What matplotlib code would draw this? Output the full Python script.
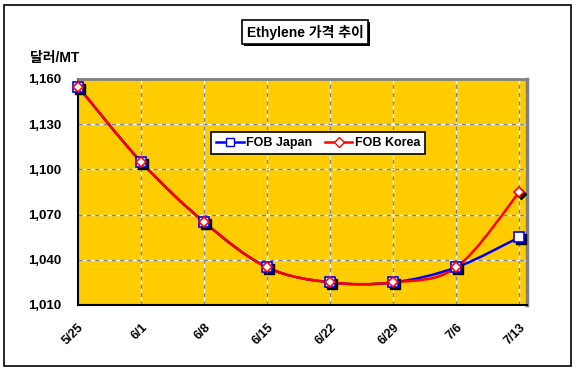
import matplotlib
matplotlib.use("Agg")
import matplotlib.pyplot as plt
import matplotlib.transforms as mtransforms
from matplotlib.path import Path
from matplotlib.patches import PathPatch, Rectangle
import numpy as np

plt.rcParams['font.family'] = ['Liberation Sans', 'Noto Sans CJK KR', 'DejaVu Sans']

dates = ['5/25', '6/1', '6/8', '6/15', '6/22', '6/29', '7/6', '7/13']
fob_japan = [1155, 1105, 1065, 1035, 1025, 1025, 1035, 1055]
fob_korea = [1155, 1105, 1065, 1035, 1025, 1025, 1035, 1085]
yticks = [1010, 1040, 1070, 1100, 1130, 1160]

GOLD = '#FFCC00'


def smooth_path(xs, ys):
    # excel-style smoothed line as bezier segments
    pts = np.column_stack([xs, ys]).astype(float)
    n = len(pts)
    verts = [pts[0]]
    codes = [Path.MOVETO]
    for i in range(n - 1):
        p0 = pts[max(i - 1, 0)]
        p1 = pts[i]
        p2 = pts[i + 1]
        p3 = pts[min(i + 2, n - 1)]
        c1 = p1 + (p2 - p0) / 6.0
        c2 = p2 - (p3 - p1) / 6.0
        verts += [c1, c2, p2]
        codes += [Path.CURVE4] * 3
    return Path(verts, codes)


fig = plt.figure(figsize=(5.76, 3.71), dpi=100)
fig.patches.append(Rectangle((4 / 576, 5 / 371), 567 / 576, 361 / 371, transform=fig.transFigure,
                             fill=False, edgecolor='black', lw=1.2))

ax = fig.add_axes([78 / 576, 1 - 305 / 371, 449 / 576, 226 / 371])
ax.set_facecolor(GOLD)
x = np.arange(len(dates))
ax.set_xlim(0, 7.12)
ax.set_ylim(1010, 1160)

for xi in x[1:]:
    ax.axvline(xi, color='white', lw=1, zorder=1)
    ax.axvline(xi, color='#808080', lw=1, ls=(0, (3, 3)), zorder=1)
for yv in yticks[1:-1]:
    ax.axhline(yv, color='white', lw=1, zorder=1)
    ax.axhline(yv, color='#808080', lw=1, ls=(0, (3, 3)), zorder=1)

ax.spines['left'].set_color('black')
ax.spines['bottom'].set_color('black')
ax.spines['left'].set_linewidth(1.5)
ax.spines['bottom'].set_linewidth(1.5)
ax.spines['top'].set_color('#808080')
ax.spines['right'].set_color('#808080')
ax.spines['top'].set_linewidth(2)
ax.spines['right'].set_linewidth(2.5)

ax.set_xticks(x)
ax.set_xticklabels(dates, rotation=45, ha='right', va='top', fontsize=9, fontweight='bold',
                   rotation_mode='anchor')
ax.set_yticks(yticks)
ax.set_yticklabels([f'{v:,}' for v in yticks], fontsize=9.5, fontweight='bold')
ax.tick_params(axis='both', length=0)
ax.tick_params(axis='x', pad=12)
ax.tick_params(axis='y', pad=12)

shadow = mtransforms.offset_copy(ax.transData, fig=fig, x=2, y=-2, units='dots')

series = [(fob_japan, 'blue', 's', 'FOB Japan'), (fob_korea, 'red', 'D', 'FOB Korea')]
handles = []
for vals, col, mk, name in series:
    ax.add_patch(PathPatch(smooth_path(x, vals), fill=False, edgecolor=col, lw=1.8, zorder=3))
for vals, col, mk, name in series:
    ax.plot(x, vals, ls='none', marker=mk, ms=7 if mk == 's' else 5.5, color='black',
            transform=shadow, zorder=4, clip_on=False)
for vals, col, mk, name in series:
    ax.plot(x, vals, ls='none', marker=mk, ms=7 if mk == 's' else 5.5, mfc='white',
            mec=col, mew=1.2, zorder=5, clip_on=False)
    handles.append(plt.Line2D([], [], color=col, lw=1.8, marker=mk, ms=6 if mk == 's' else 5,
                              mfc='white', mec=col, label=name))

leg = ax.legend(handles=handles, ncol=2, loc='center', bbox_to_anchor=(0.535, 0.717),
                frameon=True, fancybox=False, prop={'weight': 'bold', 'size': 9},
                handlelength=2.2, handletextpad=0.2, columnspacing=1.0, borderpad=0.4,
                borderaxespad=0)
leg.get_frame().set_edgecolor('black')
leg.get_frame().set_linewidth(1.2)
leg.get_frame().set_alpha(1)

title = fig.text(305 / 576, 1 - 32 / 371, 'Ethylene 가격 추이', ha='center', va='center',
                 fontsize=10, fontweight='bold', zorder=5,
                 bbox=dict(boxstyle='square,pad=0.35', fc='white', ec='black', lw=1.2))
fig.text(30 / 576, 1 - 58 / 371, '달러/MT', ha='left', va='center', fontsize=10,
         fontweight='bold')

# drop shadow behind the title box
fig.canvas.draw()
bb = title.get_bbox_patch().get_window_extent()
fig.patches.append(Rectangle(((bb.x0 + 2) / 576 / 1.0 * 1, (bb.y0 - 2) / 371),
                             bb.width / 576, bb.height / 371, transform=fig.transFigure,
                             fc='black', ec='none', zorder=1))

fig.savefig('out.png', dpi=100, facecolor='white')
